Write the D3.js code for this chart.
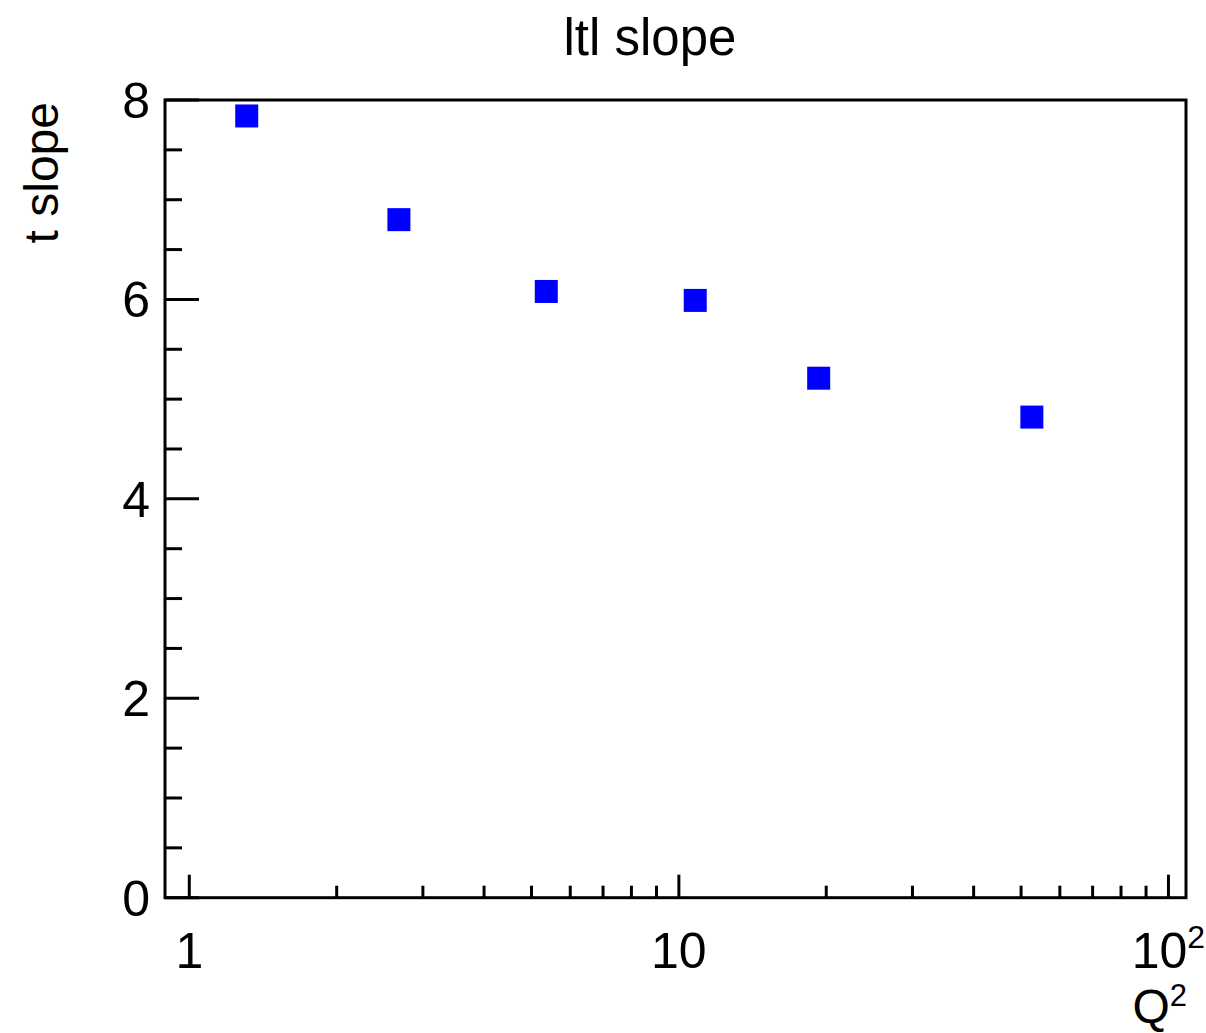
<!DOCTYPE html>
<html>
<head>
<meta charset="utf-8">
<script src="https://cdn.jsdelivr.net/npm/d3@7"></script>
<style>
  html, body { margin: 0; padding: 0; background: #fff; }
  svg { display: block; font-family: "Liberation Sans", Arial, sans-serif; }
</style>
</head>
<body>
<svg id="chart" width="1206" height="1033"></svg>
<script>
// ---- data ----
const q2 = [1.31, 2.68, 5.36, 10.8, 19.3, 52.6];
const tSlope = [7.84, 6.80, 6.08, 5.99, 5.21, 4.82];
const xMajorTicks = [1, 10, 100];
const xMinorTicks = [2, 3, 4, 5, 6, 7, 8, 9, 20, 30, 40, 50, 60, 70, 80, 90];
const yMajorTicks = [0, 2, 4, 6, 8];
const yMinorTicks = [0.5, 1, 1.5, 2.5, 3, 3.5, 4.5, 5, 5.5, 6.5, 7, 7.5];
const titleText = "ltl slope";
const yTitle = "t slope";

(function () {
// ---- layout ----
const pL = 165, pR = 1186, pT = 100, pB = 897.7;
const svg = d3.select("#chart");

const x = d3.scaleLog().domain([0.892, 108.6]).range([pL, pR]);
const y = d3.scaleLinear().domain([0, 8]).range([pB, pT]);

// ticks
const g = svg.append("g").attr("stroke", "#000").attr("stroke-width", 3);
g.selectAll(".xmaj").data(xMajorTicks).join("line")
  .attr("x1", d => x(d)).attr("x2", d => x(d))
  .attr("y1", pB).attr("y2", pB - 23);
g.selectAll(".xmin").data(xMinorTicks).join("line")
  .attr("x1", d => x(d)).attr("x2", d => x(d))
  .attr("y1", pB).attr("y2", pB - 12);
g.selectAll(".ymaj").data(yMajorTicks).join("line")
  .attr("x1", pL).attr("x2", pL + 34)
  .attr("y1", d => y(d)).attr("y2", d => y(d));
g.selectAll(".ymin").data(yMinorTicks).join("line")
  .attr("x1", pL).attr("x2", pL + 17)
  .attr("y1", d => y(d)).attr("y2", d => y(d));

// frame
svg.append("rect")
  .attr("x", pL).attr("y", pT)
  .attr("width", pR - pL).attr("height", pB - pT)
  .attr("fill", "none").attr("stroke", "#000").attr("stroke-width", 3);

// markers
const ms = 23;
svg.append("g").selectAll("rect").data(q2.map((d, i) => [d, tSlope[i]])).join("rect")
  .attr("x", d => x(d[0]) - ms / 2).attr("y", d => y(d[1]) - ms / 2)
  .attr("width", ms).attr("height", ms)
  .attr("fill", "#0000ff");

// y tick labels
svg.append("g").selectAll("text").data(yMajorTicks).join("text")
  .attr("x", 150).attr("y", d => y(d)).attr("dy", "0.36em")
  .attr("text-anchor", "end").attr("font-size", 50)
  .text(d => d);

// x tick labels
const xl = svg.append("g");
xMajorTicks.forEach(v => {
  const t = xl.append("text").attr("x", x(v)).attr("y", 968)
    .attr("text-anchor", "middle").attr("font-size", 50);
  if (v === 100) {
    t.append("tspan").text("10");
    t.append("tspan").attr("font-size", 32).attr("dy", -20).text("2");
  } else {
    t.text(v);
  }
});

// x axis title
const xt = svg.append("text").attr("x", 1187).attr("y", 1023)
  .attr("text-anchor", "end").attr("font-size", 48);
xt.append("tspan").text("Q");
xt.append("tspan").attr("font-size", 31).attr("dy", -17).text("2");

// y axis title
svg.append("text")
  .attr("transform", "translate(58,102) rotate(-90)")
  .attr("text-anchor", "end").attr("font-size", 48)
  .text(yTitle);

// title
svg.append("text").attr("x", 650).attr("y", 55)
  .attr("text-anchor", "middle").attr("font-size", 51)
  .text(titleText);
})();
</script>
</body>
</html>
